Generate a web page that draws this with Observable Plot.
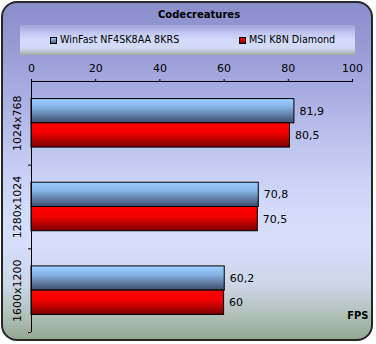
<!DOCTYPE html>
<html>
<head>
<meta charset="utf-8">
<script src="https://cdn.jsdelivr.net/npm/d3@7"></script>
<script src="https://cdn.jsdelivr.net/npm/@observablehq/plot@0.6"></script>
<style>
  html, body { margin: 0; padding: 0; background: #fff; }
  #wrap { position: relative; width: 376px; height: 344px; overflow: hidden; font-family: "DejaVu Sans", sans-serif; }
  #card { position: absolute; left: 1px; top: 1px; width: 372px; height: 340px; box-sizing: border-box;
    border: 2px solid #262626; border-radius: 16px;
    background: linear-gradient(to bottom, #898dca 0%, #a4a9df 24%, #c2c9f1 45%, #d4dcfc 62%, #d6defd 72%, #cbd6e6 84%, #b0c0b8 93%, #94a892 100%); }
  #title { position: absolute; left: 158px; top: 8px; font: bold 10px "DejaVu Sans", sans-serif; color: #000; line-height: 14px; white-space: nowrap; }
  #legend { position: absolute; left: 20px; top: 25px; width: 335px; height: 30px;
    background: linear-gradient(to bottom, #9fa3d8 0%, #c2c9f2 28%, #d4dcfe 52%, #d2daf8 76%, #b6c2cc 90%, #98ac94 100%); }
  .sw { position: absolute; width: 7px; height: 7px; box-sizing: border-box; border: 1px solid #000; }
  .lt { position: absolute; font: 9.6px "DejaVu Sans", sans-serif; color: #000; white-space: nowrap; line-height: 12px; }
  #plot { position: absolute; left: 0; top: 56px; }
  #plot svg text { font-family: "DejaVu Sans", sans-serif; }
</style>
</head>
<body>
<div id="wrap">
  <div id="card"></div>
  <div id="title"></div>
  <div id="legend"></div>
  <div id="plot"></div>
</div>
<script>
const title = "Codecreatures";
const categories = ["1024x768", "1280x1024", "1600x1200"];
const series = ["WinFast NF4SK8AA 8KRS", "MSI K8N Diamond"];
const winfast = [81.9, 70.8, 60.2];
const msi = [80.5, 70.5, 60];
const xTicks = [0, 20, 40, 60, 80, 100];
const unitLabel = "FPS";

const seriesFill = ["url(#gBlue)", "url(#gRed)"];
const swatchBg = ["linear-gradient(#9dcfff, #4a5c80)", "linear-gradient(#ff0000, #900000)"];

document.getElementById("title").textContent = title;

// legend
const legend = document.getElementById("legend");
const legendX = [30, 219]; // relative to legend band
series.forEach((s, k) => {
  const sw = document.createElement("div");
  sw.className = "sw";
  sw.style.left = legendX[k] + "px";
  sw.style.top = "12px";
  sw.style.background = swatchBg[k];
  legend.appendChild(sw);
  const t = document.createElement("div");
  t.className = "lt";
  t.style.left = (legendX[k] + 10) + "px";
  t.style.top = "9px";
  t.textContent = s;
  legend.appendChild(t);
});

const values = [winfast, msi];
const rows = categories.flatMap((c, i) => series.map((s, k) => ({cat: c, i, k, value: values[k][i]})));
const pad = 0.21, bh = 0.29;
const Y1 = d => d.i + pad + d.k * bh;
const Y2 = d => d.i + pad + (d.k + 1) * bh;
const fmt = v => String(v).replace(".", ",");
const FF = "DejaVu Sans, sans-serif";

const plot = Plot.plot({
  width: 376,
  height: 284,
  marginTop: 25,
  marginBottom: 8,
  marginLeft: 31,
  marginRight: 24,
  style: {background: "transparent", fontFamily: FF, fontSize: "11px", color: "#000", overflow: "visible"},
  x: {domain: [0, 100]},
  y: {domain: [0, categories.length], reverse: true},
  marks: [
    Plot.axisX({anchor: "top", ticks: xTicks, tickSize: 3, tickPadding: 7, fontSize: 11, label: null, tickFormat: d => d}),
    Plot.axisY({ticks: d3.range(1, categories.length + 1), tickSize: 3, tickFormat: () => "", label: null}),
    ...series.map((s, k) => Plot.rectX(rows.filter(d => d.k === k), {
      x1: 0, x2: "value", y1: Y1, y2: Y2, fill: seriesFill[k], stroke: "#000", strokeWidth: 1
    })),
    Plot.text(rows, {x: "value", y: d => (Y1(d) + Y2(d)) / 2, text: d => fmt(d.value), dx: 5, textAnchor: "start", fontSize: 11, fontFamily: FF, fill: "#000"}),
    Plot.text(categories, {x: 0, y: (d, i) => i + 0.5, text: d => d, rotate: -90, dx: -14, fontSize: 11, fontFamily: FF, fill: "#000"}),
    Plot.ruleY([0], {stroke: "#000"}),
    Plot.ruleX([0], {stroke: "#000"}),
    Plot.text([unitLabel], {frameAnchor: "bottom-right", textAnchor: "end", lineAnchor: "middle", dx: 16, dy: -17, fontWeight: "bold", fontSize: 10, fontFamily: FF, fill: "#000"})
  ]
});

d3.select(plot).insert("defs", ":first-child").html(`
  <linearGradient id="gBlue" x1="0" y1="0" x2="0" y2="1">
    <stop offset="0" stop-color="#9dcfff"/>
    <stop offset="0.35" stop-color="#86b4e6"/>
    <stop offset="1" stop-color="#3c4a68"/>
  </linearGradient>
  <linearGradient id="gRed" x1="0" y1="0" x2="0" y2="1">
    <stop offset="0" stop-color="#ff0000"/>
    <stop offset="0.4" stop-color="#f40000"/>
    <stop offset="1" stop-color="#780000"/>
  </linearGradient>`);

document.getElementById("plot").appendChild(plot);
</script>
</body>
</html>
